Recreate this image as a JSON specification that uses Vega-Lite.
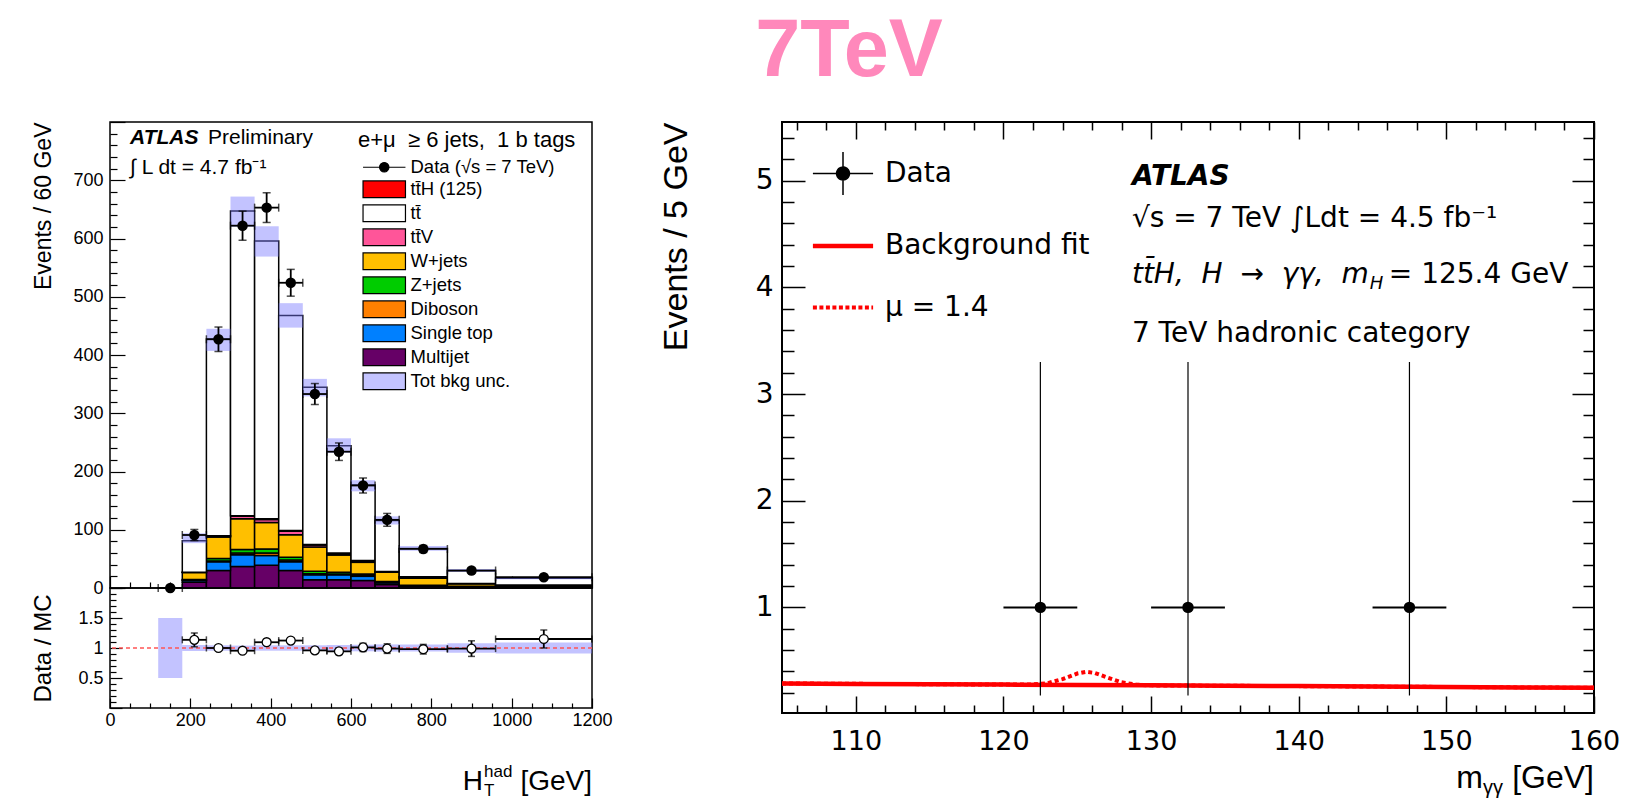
{
  "$schema": "https://vega.github.io/schema/vega-lite/v6.json",
  "background": "white",
  "padding": {"left": 31, "top": 11, "right": 5, "bottom": 1},
  "title": {"text": "7TeV", "font": "Liberation Sans", "fontSize": 81, "fontWeight": "bold", "color": "#ff88bb", "anchor": "start", "dx": 724, "offset": 19},
  "config": {
    "view": {"stroke": "black", "strokeWidth": 1.5},
    "axis": {"grid": false, "domain": false, "tickColor": "black", "labelColor": "black", "titleColor": "black", "titleFontWeight": "normal", "labelOverlap": false, "labelFlush": false, "zindex": 1, "tickWidth": 1.2, "labelFont": "Liberation Sans", "titleFont": "Liberation Sans"},
    "legend": {"labelColor": "black", "titleColor": "black"}
  },
  "resolve": {"scale": {"color": "independent", "shape": "independent", "stroke": "independent", "strokeDash": "independent", "strokeWidth": "independent", "fill": "independent"}},
  "datasets": {
    "mc": [
      {"lo": 180, "hi": 240, "p": "Multijet", "n": 10}, {"lo": 240, "hi": 300, "p": "Multijet", "n": 30}, {"lo": 300, "hi": 360, "p": "Multijet", "n": 37}, {"lo": 360, "hi": 420, "p": "Multijet", "n": 39}, {"lo": 420, "hi": 480, "p": "Multijet", "n": 30}, {"lo": 480, "hi": 540, "p": "Multijet", "n": 14}, {"lo": 540, "hi": 600, "p": "Multijet", "n": 14}, {"lo": 600, "hi": 660, "p": "Multijet", "n": 13}, {"lo": 660, "hi": 720, "p": "Multijet", "n": 6}, {"lo": 720, "hi": 840, "p": "Multijet", "n": 3}, {"lo": 840, "hi": 960, "p": "Multijet", "n": 2}, {"lo": 960, "hi": 1200, "p": "Multijet", "n": 2},
      {"lo": 180, "hi": 240, "p": "Single top", "n": 3}, {"lo": 240, "hi": 300, "p": "Single top", "n": 15}, {"lo": 300, "hi": 360, "p": "Single top", "n": 20}, {"lo": 360, "hi": 420, "p": "Single top", "n": 17}, {"lo": 420, "hi": 480, "p": "Single top", "n": 15}, {"lo": 480, "hi": 540, "p": "Single top", "n": 8.6}, {"lo": 540, "hi": 600, "p": "Single top", "n": 8.6}, {"lo": 600, "hi": 660, "p": "Single top", "n": 7}, {"lo": 660, "hi": 720, "p": "Single top", "n": 3}, {"lo": 720, "hi": 840, "p": "Single top", "n": 1}, {"lo": 840, "hi": 960, "p": "Single top", "n": 0.5}, {"lo": 960, "hi": 1200, "p": "Single top", "n": 0.5},
      {"lo": 180, "hi": 240, "p": "Diboson", "n": 0.5}, {"lo": 240, "hi": 300, "p": "Diboson", "n": 1.5}, {"lo": 300, "hi": 360, "p": "Diboson", "n": 3}, {"lo": 360, "hi": 420, "p": "Diboson", "n": 4}, {"lo": 420, "hi": 480, "p": "Diboson", "n": 3}, {"lo": 480, "hi": 540, "p": "Diboson", "n": 2}, {"lo": 540, "hi": 600, "p": "Diboson", "n": 1.5}, {"lo": 600, "hi": 660, "p": "Diboson", "n": 1.5}, {"lo": 660, "hi": 720, "p": "Diboson", "n": 0.5}, {"lo": 720, "hi": 840, "p": "Diboson", "n": 0.3}, {"lo": 840, "hi": 960, "p": "Diboson", "n": 0.2}, {"lo": 960, "hi": 1200, "p": "Diboson", "n": 0.2},
      {"lo": 180, "hi": 240, "p": "Z+jets", "n": 1}, {"lo": 240, "hi": 300, "p": "Z+jets", "n": 4}, {"lo": 300, "hi": 360, "p": "Z+jets", "n": 6}, {"lo": 360, "hi": 420, "p": "Z+jets", "n": 7}, {"lo": 420, "hi": 480, "p": "Z+jets", "n": 5}, {"lo": 480, "hi": 540, "p": "Z+jets", "n": 4}, {"lo": 540, "hi": 600, "p": "Z+jets", "n": 3}, {"lo": 600, "hi": 660, "p": "Z+jets", "n": 2.5}, {"lo": 660, "hi": 720, "p": "Z+jets", "n": 1.5}, {"lo": 720, "hi": 840, "p": "Z+jets", "n": 0.5}, {"lo": 840, "hi": 960, "p": "Z+jets", "n": 0.3}, {"lo": 960, "hi": 1200, "p": "Z+jets", "n": 0.3},
      {"lo": 180, "hi": 240, "p": "W+jets", "n": 12}, {"lo": 240, "hi": 300, "p": "W+jets", "n": 37}, {"lo": 300, "hi": 360, "p": "W+jets", "n": 53}, {"lo": 360, "hi": 420, "p": "W+jets", "n": 45.6}, {"lo": 420, "hi": 480, "p": "W+jets", "n": 38.4}, {"lo": 480, "hi": 540, "p": "W+jets", "n": 41.7}, {"lo": 540, "hi": 600, "p": "W+jets", "n": 29.6}, {"lo": 600, "hi": 660, "p": "W+jets", "n": 20}, {"lo": 660, "hi": 720, "p": "W+jets", "n": 16}, {"lo": 720, "hi": 840, "p": "W+jets", "n": 12}, {"lo": 840, "hi": 960, "p": "W+jets", "n": 4.4}, {"lo": 960, "hi": 1200, "p": "W+jets", "n": 1.5},
      {"lo": 180, "hi": 240, "p": "tt̄V", "n": 0.5}, {"lo": 240, "hi": 300, "p": "tt̄V", "n": 1.5}, {"lo": 300, "hi": 360, "p": "tt̄V", "n": 4}, {"lo": 360, "hi": 420, "p": "tt̄V", "n": 5}, {"lo": 420, "hi": 480, "p": "tt̄V", "n": 6}, {"lo": 480, "hi": 540, "p": "tt̄V", "n": 3.5}, {"lo": 540, "hi": 600, "p": "tt̄V", "n": 2}, {"lo": 600, "hi": 660, "p": "tt̄V", "n": 2}, {"lo": 660, "hi": 720, "p": "tt̄V", "n": 1}, {"lo": 720, "hi": 840, "p": "tt̄V", "n": 2}, {"lo": 840, "hi": 960, "p": "tt̄V", "n": 0.3}, {"lo": 960, "hi": 1200, "p": "tt̄V", "n": 0.3},
      {"lo": 180, "hi": 240, "p": "tt̄H (125)", "n": 0.1}, {"lo": 240, "hi": 300, "p": "tt̄H (125)", "n": 0.5}, {"lo": 300, "hi": 360, "p": "tt̄H (125)", "n": 1}, {"lo": 360, "hi": 420, "p": "tt̄H (125)", "n": 1.3}, {"lo": 420, "hi": 480, "p": "tt̄H (125)", "n": 1.5}, {"lo": 480, "hi": 540, "p": "tt̄H (125)", "n": 1}, {"lo": 540, "hi": 600, "p": "tt̄H (125)", "n": 1.5}, {"lo": 600, "hi": 660, "p": "tt̄H (125)", "n": 1}, {"lo": 660, "hi": 720, "p": "tt̄H (125)", "n": 0.5}, {"lo": 720, "hi": 840, "p": "tt̄H (125)", "n": 0.6}, {"lo": 840, "hi": 960, "p": "tt̄H (125)", "n": 0.2}, {"lo": 960, "hi": 1200, "p": "tt̄H (125)", "n": 0.2},
      {"lo": 120, "hi": 180, "p": "tt̄", "n": 0.5}, {"lo": 180, "hi": 240, "p": "tt̄", "n": 54}, {"lo": 240, "hi": 300, "p": "tt̄", "n": 338}, {"lo": 300, "hi": 360, "p": "tt̄", "n": 523}, {"lo": 360, "hi": 420, "p": "tt̄", "n": 477}, {"lo": 420, "hi": 480, "p": "tt̄", "n": 369}, {"lo": 480, "hi": 540, "p": "tt̄", "n": 270}, {"lo": 540, "hi": 600, "p": "tt̄", "n": 184}, {"lo": 600, "hi": 660, "p": "tt̄", "n": 130}, {"lo": 660, "hi": 720, "p": "tt̄", "n": 87.5}, {"lo": 720, "hi": 840, "p": "tt̄", "n": 48.6}, {"lo": 840, "hi": 960, "p": "tt̄", "n": 22}, {"lo": 960, "hi": 1200, "p": "tt̄", "n": 11.6}
    ],
    "band": [
      {"lo": 180, "hi": 240, "dn": 77, "up": 94}, {"lo": 240, "hi": 300, "dn": 407, "up": 445}, {"lo": 300, "hi": 360, "dn": 620, "up": 672}, {"lo": 360, "hi": 420, "dn": 569, "up": 621}, {"lo": 420, "hi": 480, "dn": 447, "up": 489}, {"lo": 480, "hi": 540, "dn": 329, "up": 359}, {"lo": 540, "hi": 600, "dn": 232, "up": 257}, {"lo": 600, "hi": 660, "dn": 166, "up": 185}, {"lo": 660, "hi": 720, "dn": 109, "up": 123}, {"lo": 720, "hi": 840, "dn": 64, "up": 72}, {"lo": 840, "hi": 960, "dn": 27.5, "up": 32.5}, {"lo": 960, "hi": 1200, "dn": 15, "up": 18.2}
    ],
    "dat": [
      {"x": 150, "lo": 120, "hi": 180, "n": 0, "dn": 0, "up": 0},
      {"x": 210, "lo": 180, "hi": 240, "n": 91, "dn": 81.5, "up": 100.5},
      {"x": 270, "lo": 240, "hi": 300, "n": 427, "dn": 406, "up": 448},
      {"x": 330, "lo": 300, "hi": 360, "n": 622, "dn": 597, "up": 647},
      {"x": 390, "lo": 360, "hi": 420, "n": 653, "dn": 627.5, "up": 678.5},
      {"x": 450, "lo": 420, "hi": 480, "n": 524, "dn": 501, "up": 547},
      {"x": 510, "lo": 480, "hi": 540, "n": 333, "dn": 315, "up": 351},
      {"x": 570, "lo": 540, "hi": 600, "n": 234, "dn": 219, "up": 249},
      {"x": 630, "lo": 600, "hi": 660, "n": 176, "dn": 163, "up": 189},
      {"x": 690, "lo": 660, "hi": 720, "n": 117, "dn": 106, "up": 128},
      {"x": 780, "lo": 720, "hi": 840, "n": 67, "dn": 61, "up": 73},
      {"x": 900, "lo": 840, "hi": 960, "n": 30, "dn": 26, "up": 34},
      {"x": 1080, "lo": 960, "hi": 1200, "n": 18.5, "dn": 16, "up": 21}
    ],
    "rband": [
      {"lo": 120, "hi": 180, "dn": 0.5, "up": 1.5}, {"lo": 180, "hi": 240, "dn": 0.95, "up": 1.05}, {"lo": 240, "hi": 300, "dn": 0.955, "up": 1.045}, {"lo": 300, "hi": 360, "dn": 0.96, "up": 1.04}, {"lo": 360, "hi": 420, "dn": 0.955, "up": 1.045}, {"lo": 420, "hi": 480, "dn": 0.955, "up": 1.045}, {"lo": 480, "hi": 540, "dn": 0.955, "up": 1.045}, {"lo": 540, "hi": 600, "dn": 0.95, "up": 1.05}, {"lo": 600, "hi": 660, "dn": 0.945, "up": 1.055}, {"lo": 660, "hi": 720, "dn": 0.94, "up": 1.06}, {"lo": 720, "hi": 840, "dn": 0.94, "up": 1.06}, {"lo": 840, "hi": 960, "dn": 0.92, "up": 1.08}, {"lo": 960, "hi": 1200, "dn": 0.91, "up": 1.09}
    ],
    "ratio": [
      {"x": 210, "lo": 180, "hi": 240, "r": 1.136, "dn": 1.02, "up": 1.25},
      {"x": 270, "lo": 240, "hi": 300, "r": 1.0, "dn": 0.96, "up": 1.04},
      {"x": 330, "lo": 300, "hi": 360, "r": 0.955, "dn": 0.92, "up": 0.99},
      {"x": 390, "lo": 360, "hi": 420, "r": 1.096, "dn": 1.06, "up": 1.14},
      {"x": 450, "lo": 420, "hi": 480, "r": 1.124, "dn": 1.08, "up": 1.17},
      {"x": 510, "lo": 480, "hi": 540, "r": 0.96, "dn": 0.91, "up": 1.01},
      {"x": 570, "lo": 540, "hi": 600, "r": 0.944, "dn": 0.89, "up": 1.0},
      {"x": 630, "lo": 600, "hi": 660, "r": 1.01, "dn": 0.94, "up": 1.08},
      {"x": 690, "lo": 660, "hi": 720, "r": 0.99, "dn": 0.91, "up": 1.07},
      {"x": 780, "lo": 720, "hi": 840, "r": 0.98, "dn": 0.9, "up": 1.06},
      {"x": 900, "lo": 840, "hi": 960, "r": 0.99, "dn": 0.86, "up": 1.12},
      {"x": 1080, "lo": 960, "hi": 1200, "r": 1.15, "dn": 1.0, "up": 1.3}
    ],
    "legL": [
      {"eL": "Data (√s = 7 TeV)"}, {"eL": "tt̄H (125)"}, {"eL": "tt̄"}, {"eL": "tt̄V"}, {"eL": "W+jets"}, {"eL": "Z+jets"}, {"eL": "Diboson"}, {"eL": "Single top"}, {"eL": "Multijet"}, {"eL": "Tot bkg unc."}
    ],
    "bkg": [
      {"m": 105, "v": 0.287}, {"m": 110, "v": 0.283}, {"m": 115, "v": 0.28}, {"m": 120, "v": 0.276}, {"m": 125, "v": 0.272}, {"m": 130, "v": 0.269}, {"m": 135, "v": 0.265}, {"m": 140, "v": 0.262}, {"m": 145, "v": 0.258}, {"m": 150, "v": 0.254}, {"m": 155, "v": 0.25}, {"m": 160, "v": 0.246}
    ],
    "sig": [
      {"m": 105, "v": 0.287}, {"m": 115, "v": 0.28}, {"m": 121, "v": 0.276}, {"m": 122, "v": 0.278}, {"m": 123, "v": 0.29}, {"m": 124, "v": 0.328}, {"m": 125, "v": 0.38}, {"m": 125.6, "v": 0.396}, {"m": 126.2, "v": 0.385}, {"m": 127, "v": 0.345}, {"m": 128, "v": 0.298}, {"m": 129, "v": 0.276}, {"m": 130, "v": 0.269}, {"m": 140, "v": 0.262}, {"m": 160, "v": 0.246}
    ],
    "pts": [
      {"m": 122.5, "lo": 120, "hi": 125, "n": 1, "dn": 0.173, "up": 3.3},
      {"m": 132.5, "lo": 130, "hi": 135, "n": 1, "dn": 0.173, "up": 3.3},
      {"m": 147.5, "lo": 145, "hi": 150, "n": 1, "dn": 0.173, "up": 3.3}
    ],
    "legR": [{"eR": "Data"}, {"eR": "Background fit"}, {"eR": "μ = 1.4"}],
    "one": [{}]
  },
  "bounds": "full",
  "spacing": 45,
  "hconcat": [
    {
      "bounds": "flush",
      "spacing": 0,
      "resolve": {"scale": {"color": "independent", "shape": "independent", "fill": "independent"}},
      "vconcat": [
        {
          "width": 482,
          "height": 466,
          "resolve": {"axis": {"x": "independent", "y": "independent"}},
          "layer": [
            {
              "data": {"name": "mc"},
              "transform": [{"stack": "n", "groupby": ["lo"], "as": ["s0", "s1"]}],
              "mark": {"type": "rect", "stroke": "black", "strokeWidth": 1.5},
              "encoding": {
                "x": {"field": "lo", "type": "quantitative", "scale": {"domain": [0, 1200], "nice": false, "zero": false},
                  "axis": {"orient": "bottom", "values": [0,50,100,150,200,250,300,350,400,450,500,550,600,650,700,750,800,850,900,950,1000,1050,1100,1150,1200], "labels": false, "title": null,
                    "tickSize": {"condition": {"test": "datum.value % 200 === 0", "value": -12}, "value": -6}}},
                "x2": {"field": "hi"},
                "y": {"field": "s0", "type": "quantitative", "scale": {"domain": [0, 800], "nice": false, "zero": false},
                  "axis": {"orient": "left", "values": [0,20,40,60,80,100,120,140,160,180,200,220,240,260,280,300,320,340,360,380,400,420,440,460,480,500,520,540,560,580,600,620,640,660,680,700,720,740,760,780,800],
                    "labelExpr": "datum.value % 100 === 0 && datum.value < 800 ? datum.label : ''", "format": "~r",
                    "tickSize": {"condition": {"test": "datum.value % 100 === 0", "value": -15}, "value": -7},
                    "labelPadding": 22, "labelFontSize": 18, "title": "Events / 60 GeV", "titleFontSize": 23, "titleAnchor": "end", "titlePadding": 17}},
                "y2": {"field": "s1"},
                "fill": {"field": "p", "type": "nominal", "legend": null,
                  "scale": {"domain": ["Multijet", "Single top", "Diboson", "Z+jets", "W+jets", "tt̄V", "tt̄H (125)", "tt̄"], "range": ["#660066", "#0080ff", "#ff8000", "#00cc00", "#ffbf00", "#ff5599", "#ff0000", "#ffffff"]}}
              }
            },
            {
              "data": {"name": "band"},
              "mark": {"type": "rect", "fill": "#7b7bff", "fillOpacity": 0.45},
              "encoding": {
                "x": {"field": "lo", "type": "quantitative", "axis": null}, "x2": {"field": "hi"},
                "y": {"field": "dn", "type": "quantitative", "axis": null}, "y2": {"field": "up"}
              }
            },
            {
              "data": {"name": "dat"},
              "mark": {"type": "errorbar", "ticks": {"size": 8, "thickness": 1.5, "color": "black"}, "rule": {"strokeWidth": 1.8, "color": "black"}},
              "encoding": {
                "x": {"field": "lo", "type": "quantitative", "axis": null}, "x2": {"field": "hi"},
                "y": {"field": "n", "type": "quantitative", "axis": null}
              }
            },
            {
              "data": {"name": "dat"},
              "mark": {"type": "errorbar", "ticks": {"size": 8, "thickness": 1.5, "color": "black"}, "rule": {"strokeWidth": 1.8, "color": "black"}},
              "encoding": {
                "x": {"field": "x", "type": "quantitative", "axis": null},
                "y": {"field": "dn", "type": "quantitative", "axis": null}, "y2": {"field": "up"}
              }
            },
            {
              "data": {"name": "dat"},
              "mark": {"type": "circle", "size": 110, "color": "black", "opacity": 1},
              "encoding": {
                "x": {"field": "x", "type": "quantitative", "axis": null},
                "y": {"field": "n", "type": "quantitative", "axis": null}
              }
            },
            {
              "data": {"name": "one"},
              "mark": {"type": "text", "text": "ATLAS", "font": "Liberation Sans", "fontSize": 21, "fontWeight": "bold", "fontStyle": "italic", "align": "left", "baseline": "middle", "color": "black"},
              "encoding": {"x": {"datum": 50, "type": "quantitative", "axis": null}, "y": {"datum": 773, "type": "quantitative", "axis": null}}
            },
            {
              "data": {"name": "one"},
              "mark": {"type": "text", "text": "Preliminary", "font": "Liberation Sans", "fontSize": 21, "align": "left", "baseline": "middle", "color": "black"},
              "encoding": {"x": {"datum": 244, "type": "quantitative", "axis": null}, "y": {"datum": 773, "type": "quantitative", "axis": null}}
            },
            {
              "data": {"name": "one"},
              "mark": {"type": "text", "text": "∫ L dt = 4.7 fb⁻¹", "font": "Liberation Sans", "fontSize": 21, "align": "left", "baseline": "middle", "color": "black"},
              "encoding": {"x": {"datum": 50, "type": "quantitative", "axis": null}, "y": {"datum": 721, "type": "quantitative", "axis": null}}
            },
            {
              "data": {"name": "legL"},
              "mark": {"type": "point", "filled": true, "clip": true, "opacity": 1, "stroke": "black", "strokeWidth": 1.2},
              "encoding": {
                "x": {"datum": -5000, "type": "quantitative", "axis": null},
                "y": {"datum": 400, "type": "quantitative", "axis": null},
                "color": {"field": "eL", "type": "nominal",
                  "scale": {"domain": ["Data (√s = 7 TeV)", "tt̄H (125)", "tt̄", "tt̄V", "W+jets", "Z+jets", "Diboson", "Single top", "Multijet", "Tot bkg unc."],
                    "range": ["black", "#ff0000", "#ffffff", "#ff5599", "#ffbf00", "#00cc00", "#ff8000", "#0080ff", "#660066", "#c4c4ff"]},
                  "legend": {"orient": "none", "legendX": 248, "legendY": 8, "direction": "vertical", "title": "e+μ\u00a0 ≥ 6 jets,\u00a0 1 b tags", "titleFont": "Liberation Sans", "titleFontSize": 22, "titleFontWeight": "normal", "titlePadding": 6, "titleLimit": 500, "labelFont": "Liberation Sans", "labelFontSize": 18.5, "labelLimit": 400, "symbolSize": 279, "symbolOffset": 17, "labelOffset": 17, "rowPadding": 1, "symbolOpacity": 1, "symbolStrokeColor": "black", "symbolStrokeWidth": 1.2}},
                "shape": {"field": "eL", "type": "nominal",
                  "scale": {"domain": ["Data (√s = 7 TeV)", "tt̄H (125)", "tt̄", "tt̄V", "W+jets", "Z+jets", "Diboson", "Single top", "Multijet", "Tot bkg unc."],
                    "range": ["M-2.54,0H2.54M0.56,0A0.56,0.56,0,1,1,-0.56,0A0.56,0.56,0,1,1,0.56,0Z", "M-2.54,-1H2.54V1H-2.54Z", "M-2.54,-1H2.54V1H-2.54Z", "M-2.54,-1H2.54V1H-2.54Z", "M-2.54,-1H2.54V1H-2.54Z", "M-2.54,-1H2.54V1H-2.54Z", "M-2.54,-1H2.54V1H-2.54Z", "M-2.54,-1H2.54V1H-2.54Z", "M-2.54,-1H2.54V1H-2.54Z", "M-2.54,-1H2.54V1H-2.54Z"]}}
              }
            }
          ]
        },
        {
          "width": 482,
          "height": 120,
          "resolve": {"axis": {"x": "independent", "y": "independent"}},
          "layer": [
            {
              "data": {"name": "rband"},
              "mark": {"type": "rect", "fill": "#7b7bff", "fillOpacity": 0.45},
              "encoding": {
                "x": {"field": "lo", "type": "quantitative", "scale": {"domain": [0, 1200], "nice": false, "zero": false},
                  "axis": {"orient": "bottom", "values": [0,50,100,150,200,250,300,350,400,450,500,550,600,650,700,750,800,850,900,950,1000,1050,1100,1150,1200],
                    "labelExpr": "datum.value % 200 === 0 ? datum.label : ''", "format": "~r",
                    "tickSize": {"condition": {"test": "datum.value % 200 === 0", "value": -10}, "value": -5},
                    "labelPadding": 13, "labelFontSize": 18, "title": null}},
                "x2": {"field": "hi"},
                "y": {"field": "dn", "type": "quantitative", "scale": {"domain": [0, 2], "nice": false, "zero": false},
                  "axis": {"orient": "left", "values": [0,0.1,0.2,0.3,0.4,0.5,0.6,0.7,0.8,0.9,1,1.1,1.2,1.3,1.4,1.5,1.6,1.7,1.8,1.9,2],
                    "labelExpr": "datum.value === 0.5 || datum.value === 1 || datum.value === 1.5 ? datum.label : ''", "format": "~r",
                    "tickSize": {"condition": {"test": "datum.value % 0.5 === 0", "value": -12}, "value": -6},
                    "labelPadding": 19, "labelFontSize": 18, "title": "Data / MC", "titleFontSize": 24, "titleAnchor": "middle", "titlePadding": 22}},
                "y2": {"field": "up"}
              }
            },
            {
              "data": {"name": "one"},
              "mark": {"type": "rule", "color": "#ff5555", "strokeDash": [4, 3], "strokeWidth": 1.3},
              "encoding": {"y": {"datum": 1, "type": "quantitative", "axis": null}}
            },
            {
              "data": {"name": "ratio"},
              "mark": {"type": "errorbar", "ticks": {"size": 7, "thickness": 1.5, "color": "black"}, "rule": {"strokeWidth": 1.8, "color": "black"}},
              "encoding": {
                "x": {"field": "lo", "type": "quantitative", "axis": null}, "x2": {"field": "hi"},
                "y": {"field": "r", "type": "quantitative", "axis": null}
              }
            },
            {
              "data": {"name": "ratio"},
              "mark": {"type": "errorbar", "ticks": {"size": 7, "thickness": 1.5, "color": "black"}, "rule": {"strokeWidth": 1.8, "color": "black"}},
              "encoding": {
                "x": {"field": "x", "type": "quantitative", "axis": null},
                "y": {"field": "dn", "type": "quantitative", "axis": null}, "y2": {"field": "up"}
              }
            },
            {
              "data": {"name": "ratio"},
              "mark": {"type": "point", "size": 80, "filled": true, "fill": "white", "stroke": "black", "strokeWidth": 1.3, "opacity": 1},
              "encoding": {
                "x": {"field": "x", "type": "quantitative", "axis": null},
                "y": {"field": "r", "type": "quantitative", "axis": null}
              }
            },
            {
              "data": {"name": "one"},
              "mark": {"type": "text", "text": "[GeV]", "font": "Liberation Sans", "fontSize": 28, "align": "right", "baseline": "middle", "color": "black"},
              "encoding": {"x": {"datum": 1200, "type": "quantitative", "axis": null}, "y": {"datum": -1.24, "type": "quantitative", "axis": null}}
            },
            {
              "data": {"name": "one"},
              "mark": {"type": "text", "text": "H", "font": "Liberation Sans", "fontSize": 28, "align": "right", "baseline": "middle", "dx": -109, "color": "black"},
              "encoding": {"x": {"datum": 1200, "type": "quantitative", "axis": null}, "y": {"datum": -1.24, "type": "quantitative", "axis": null}}
            },
            {
              "data": {"name": "one"},
              "mark": {"type": "text", "text": "had", "font": "Liberation Sans", "fontSize": 17, "align": "left", "baseline": "middle", "dx": -108, "dy": -10, "color": "black"},
              "encoding": {"x": {"datum": 1200, "type": "quantitative", "axis": null}, "y": {"datum": -1.24, "type": "quantitative", "axis": null}}
            },
            {
              "data": {"name": "one"},
              "mark": {"type": "text", "text": "T", "font": "Liberation Sans", "fontSize": 17, "align": "left", "baseline": "middle", "dx": -108, "dy": 9, "color": "black"},
              "encoding": {"x": {"datum": 1200, "type": "quantitative", "axis": null}, "y": {"datum": -1.24, "type": "quantitative", "axis": null}}
            }
          ]
        }
      ]
    },
    {
      "width": 812,
      "height": 591,
      "resolve": {"axis": {"x": "independent", "y": "independent"}},
      "view": {"strokeWidth": 2},
      "layer": [
        {
          "data": {"name": "sig"},
          "mark": {"type": "line", "color": "#ff0000", "strokeWidth": 4, "strokeDash": [4, 3]},
          "encoding": {
            "x": {"field": "m", "type": "quantitative", "scale": {"domain": [105, 160], "nice": false, "zero": false},
              "axis": {"orient": "bottom", "values": [106,108,110,112,114,116,118,120,122,124,126,128,130,132,134,136,138,140,142,144,146,148,150,152,154,156,158,160],
                "labelExpr": "datum.value % 10 === 0 ? datum.label : ''", "format": "~r",
                "tickSize": {"condition": {"test": "datum.value % 10 === 0", "value": -17}, "value": -8},
                "labelPadding": 32, "labelFontSize": 27, "labelFont": "DejaVu Sans", "title": null, "tickWidth": 1.5}},
            "y": {"field": "v", "type": "quantitative", "scale": {"domain": [0.01, 5.55], "nice": false, "zero": false},
              "axis": {"orient": "left", "values": [0.2,0.4,0.6,0.8,1,1.2,1.4,1.6,1.8,2,2.2,2.4,2.6,2.8,3,3.2,3.4,3.6,3.8,4,4.2,4.4,4.6,4.8,5,5.2,5.4],
                "labelExpr": "datum.value % 1 === 0 ? datum.label : ''", "format": "~r",
                "tickSize": {"condition": {"test": "datum.value % 1 === 0", "value": -23}, "value": -12},
                "labelPadding": 32, "labelFontSize": 28, "labelFont": "DejaVu Sans", "title": "Events / 5 GeV", "titleFontSize": 34, "titleAnchor": "end", "titlePadding": 62, "tickWidth": 1.5}}
          }
        },
        {
          "data": {"name": "bkg"},
          "mark": {"type": "line", "color": "#ff0000", "strokeWidth": 4.5},
          "encoding": {
            "x": {"field": "m", "type": "quantitative",
              "axis": {"orient": "top", "values": [106,108,110,112,114,116,118,120,122,124,126,128,130,132,134,136,138,140,142,144,146,148,150,152,154,156,158,160],
                "labels": false, "title": null, "tickWidth": 1.5,
                "tickSize": {"condition": {"test": "datum.value % 10 === 0", "value": -17}, "value": -8}}},
            "y": {"field": "v", "type": "quantitative",
              "axis": {"orient": "right", "values": [0.2,0.4,0.6,0.8,1,1.2,1.4,1.6,1.8,2,2.2,2.4,2.6,2.8,3,3.2,3.4,3.6,3.8,4,4.2,4.4,4.6,4.8,5,5.2,5.4],
                "labels": false, "title": null, "tickWidth": 1.5,
                "tickSize": {"condition": {"test": "datum.value % 1 === 0", "value": -22}, "value": -11}}}
          }
        },
        {
          "data": {"name": "pts"},
          "mark": {"type": "rule", "color": "black", "strokeWidth": 1.2},
          "encoding": {
            "x": {"field": "m", "type": "quantitative", "axis": null},
            "y": {"field": "dn", "type": "quantitative", "axis": null}, "y2": {"field": "up"}
          }
        },
        {
          "data": {"name": "pts"},
          "mark": {"type": "rule", "color": "black", "strokeWidth": 2},
          "encoding": {
            "x": {"field": "lo", "type": "quantitative", "axis": null}, "x2": {"field": "hi"},
            "y": {"field": "n", "type": "quantitative", "axis": null}
          }
        },
        {
          "data": {"name": "pts"},
          "mark": {"type": "circle", "size": 130, "color": "black", "opacity": 1},
          "encoding": {
            "x": {"field": "m", "type": "quantitative", "axis": null},
            "y": {"field": "n", "type": "quantitative", "axis": null}
          }
        },
        {
          "data": {"name": "one"},
          "mark": {"type": "text", "text": "ATLAS", "font": "DejaVu Sans", "fontSize": 28, "fontWeight": "bold", "fontStyle": "italic", "align": "left", "baseline": "middle", "color": "black"},
          "encoding": {"x": {"datum": 128.7, "type": "quantitative", "axis": null}, "y": {"datum": 5.03, "type": "quantitative", "axis": null}}
        },
        {
          "data": {"name": "one"},
          "mark": {"type": "text", "text": "√s = 7 TeV ∫Ldt = 4.5 fb⁻¹", "font": "DejaVu Sans", "fontSize": 28, "align": "left", "baseline": "middle", "color": "black"},
          "encoding": {"x": {"datum": 128.7, "type": "quantitative", "axis": null}, "y": {"datum": 4.64, "type": "quantitative", "axis": null}}
        },
        {
          "data": {"name": "one"},
          "mark": {"type": "text", "text": "tt̄H,\u00a0 H\u00a0 →\u00a0 γγ,\u00a0 m", "font": "DejaVu Sans", "fontSize": 28, "fontStyle": "italic", "align": "left", "baseline": "middle", "color": "black"},
          "encoding": {"x": {"datum": 128.7, "type": "quantitative", "axis": null}, "y": {"datum": 4.12, "type": "quantitative", "axis": null}}
        },
        {
          "data": {"name": "one"},
          "mark": {"type": "text", "text": "H", "font": "DejaVu Sans", "fontSize": 18, "fontStyle": "italic", "align": "left", "baseline": "middle", "dx": 1, "dy": 9, "color": "black"},
          "encoding": {"x": {"datum": 144.75, "type": "quantitative", "axis": null}, "y": {"datum": 4.12, "type": "quantitative", "axis": null}}
        },
        {
          "data": {"name": "one"},
          "mark": {"type": "text", "text": "= 125.4 GeV", "font": "DejaVu Sans", "fontSize": 28, "align": "left", "baseline": "middle", "color": "black"},
          "encoding": {"x": {"datum": 146.1, "type": "quantitative", "axis": null}, "y": {"datum": 4.12, "type": "quantitative", "axis": null}}
        },
        {
          "data": {"name": "one"},
          "mark": {"type": "text", "text": "7 TeV hadronic category", "font": "DejaVu Sans", "fontSize": 28, "align": "left", "baseline": "middle", "color": "black"},
          "encoding": {"x": {"datum": 128.7, "type": "quantitative", "axis": null}, "y": {"datum": 3.56, "type": "quantitative", "axis": null}}
        },
        {
          "data": {"name": "one"},
          "mark": {"type": "text", "text": "[GeV]", "font": "Liberation Sans", "fontSize": 32, "align": "right", "baseline": "middle", "color": "black"},
          "encoding": {"x": {"datum": 160, "type": "quantitative", "axis": null}, "y": {"datum": -0.6, "type": "quantitative", "axis": null}}
        },
        {
          "data": {"name": "one"},
          "mark": {"type": "text", "text": "γγ", "font": "Liberation Sans", "fontSize": 20, "align": "right", "baseline": "middle", "dx": -91, "dy": 10, "color": "black"},
          "encoding": {"x": {"datum": 160, "type": "quantitative", "axis": null}, "y": {"datum": -0.6, "type": "quantitative", "axis": null}}
        },
        {
          "data": {"name": "one"},
          "mark": {"type": "text", "text": "m", "font": "Liberation Sans", "fontSize": 32, "align": "right", "baseline": "middle", "dx": -111, "color": "black"},
          "encoding": {"x": {"datum": 160, "type": "quantitative", "axis": null}, "y": {"datum": -0.6, "type": "quantitative", "axis": null}}
        },
        {
          "data": {"name": "legR"},
          "mark": {"type": "point", "filled": true, "clip": true, "opacity": 1},
          "encoding": {
            "x": {"datum": 0, "type": "quantitative", "axis": null},
            "y": {"datum": 2, "type": "quantitative", "axis": null},
            "color": {"field": "eR", "type": "nominal", "scale": {"domain": ["Data", "Background fit", "μ = 1.4"], "range": ["black", "#ff0000", "#ff0000"]},
              "legend": {"orient": "none", "legendX": 16, "legendY": 29, "direction": "vertical", "title": null, "labelFont": "DejaVu Sans", "labelFontSize": 28, "labelLimit": 400, "symbolSize": 1849, "symbolOffset": 21, "labelOffset": 18, "rowPadding": 24, "symbolOpacity": 1}},
            "stroke": {"field": "eR", "type": "nominal", "scale": {"domain": ["Data", "Background fit", "μ = 1.4"], "range": ["black", "#ff0000", "#ff0000"]}},
            "shape": {"field": "eR", "type": "nominal", "scale": {"domain": ["Data", "Background fit", "μ = 1.4"], "range": ["M-1.4,0H1.4M0,-1V1M0.3,0A0.3,0.3,0,1,1,-0.3,0A0.3,0.3,0,1,1,0.3,0Z", "M-1.4,0H1.4", "M-1.4,0H1.4"]}},
            "strokeDash": {"field": "eR", "type": "nominal", "scale": {"domain": ["Data", "Background fit", "μ = 1.4"], "range": [[1, 0], [1, 0], [4, 2.5]]}},
            "strokeWidth": {"field": "eR", "type": "nominal", "scale": {"type": "ordinal", "domain": ["Data", "Background fit", "μ = 1.4"], "range": [1.5, 4.5, 4]}}
          }
        }
      ]
    }
  ]
}
